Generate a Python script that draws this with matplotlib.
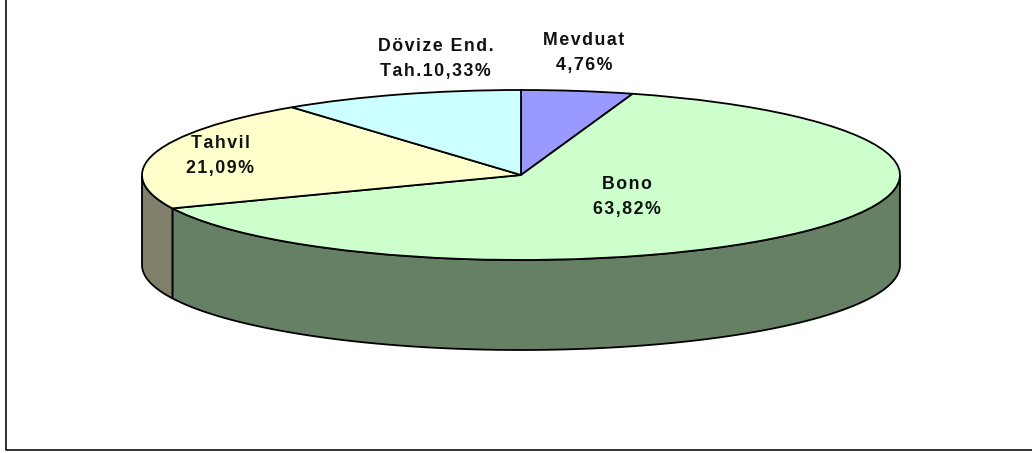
import numpy as np
from matplotlib import pyplot as plt
from matplotlib.patches import Polygon

labels = ["Mevduat\n4,76%", "Bono\n63,82%", "Tahvil\n21,09%", "Dövize End.\nTah.10,33%"]
values = [4.76, 63.82, 21.09, 10.33]
top_colors = ["#9999FF", "#CCFFCC", "#FFFFCC", "#CCFFFF"]
side_colors = ["#5C5C99", "#668066", "#80806A", "#668080"]

W, H = 1032, 453
cx, cy, rx, ry = 521.0, 175.0, 379.0, 85.0
depth = 90.0 / ry


def tracked(txt):
    # the original labels are letter spaced, matplotlib has no setting for it
    return "\n".join("\u200a".join(line) for line in txt.split("\n"))


plt.rcParams["font.family"] = ["Liberation Sans", "DejaVu Sans"]
fig = plt.figure(figsize=(W / 100, H / 100), dpi=100)

# whole figure in pixels, for the chart frame
bg = fig.add_axes([0, 0, 1, 1])
bg.set_xlim(0, W)
bg.set_ylim(H, 0)
bg.axis("off")
bg.plot([6, 6, W + 2], [-2, 450, 450], color="#222222", lw=1.3)

# pie is a unit circle, squashed by the axes limits
ax = fig.add_axes([0, 0, 1, 1])
ax.patch.set_alpha(0)
ax.pie(values, colors=top_colors, startangle=90, counterclock=False, radius=1,
       wedgeprops=dict(edgecolor="black", linewidth=1.3, zorder=5))
ax.set_aspect("auto")
ax.set_xlim((0 - cx) / rx, (W - cx) / rx)
ax.set_ylim((cy - H) / ry, cy / ry)
ax.axis("off")

# side wall of the disc, only the front half shows
start = 0.0
for val, col in zip(values, side_colors):
    end = start + val / sum(values) * 360
    a0 = max(start, 90)
    a1 = min(end, 270)
    if a1 > a0:
        t = np.radians(np.linspace(a0, a1, 100))
        x = np.sin(t)
        y = np.cos(t)
        pts = np.r_[np.c_[x, y], np.c_[x, y - depth][::-1]]
        ax.add_patch(Polygon(pts, closed=True, facecolor=col, edgecolor="black",
                             linewidth=1.3, zorder=2))
    start = end

label_px = [(584, 53), (627, 197), (220.5, 156), (435.5, 59)]
for (px, py), txt in zip(label_px, labels):
    ax.text((px - cx) / rx, (cy - py) / ry, tracked(txt), ha="center", va="center",
            fontsize=12.8, fontweight="bold", color="#111111", linespacing=1.6, zorder=6)

fig.savefig("out.png", dpi=100)
